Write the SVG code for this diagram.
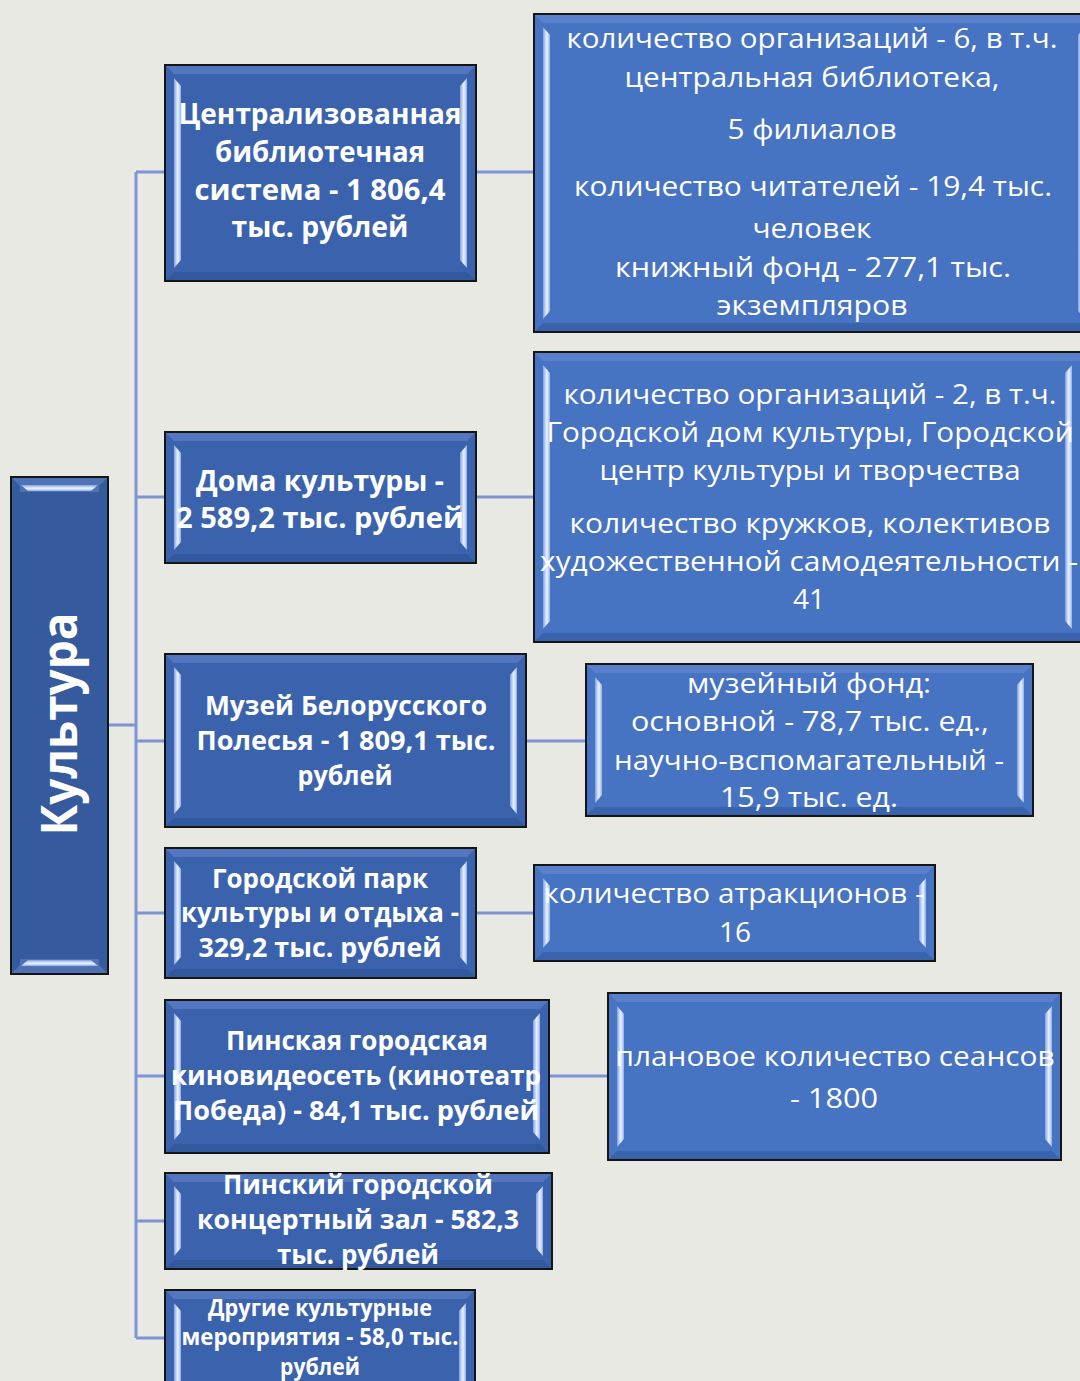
<svg xmlns="http://www.w3.org/2000/svg" width="1080" height="1381" viewBox="0 0 1080 1381">
<defs>
<linearGradient id="gv" x1="0" y1="0" x2="1" y2="0">
<stop offset="0" stop-color="#7ea2e2"/><stop offset="0.55" stop-color="#eef4ff"/><stop offset="1" stop-color="#8fb0ea"/>
</linearGradient>
<linearGradient id="gh" x1="0" y1="0" x2="0" y2="1">
<stop offset="0" stop-color="#7ea2e2"/><stop offset="0.55" stop-color="#eef4ff"/><stop offset="1" stop-color="#8fb0ea"/>
</linearGradient>
<style>
.bg{fill:#e9e9e4}
.box{stroke:#151515;stroke-width:2}
.dk{fill:#3b63ad}
.lt{fill:#4773c3}
.kt{fill:#355a9d}
.tb{fill:#7596d6;opacity:0.4}
.bb{fill:#1f3f7e;opacity:0.3}
.hv{fill:url(#gv)}
.hh{fill:url(#gh)}
.con{stroke:#7d96d3;stroke-width:3;fill:none}
.b{font-family:"Open Sans","Noto Sans",sans-serif;font-weight:bold;fill:#fff;text-anchor:middle;font-size:28px}
.r{font-family:"Open Sans","Noto Sans",sans-serif;fill:#fff;text-anchor:middle;font-size:28px}
</style>
</defs>
<rect class="bg" x="0" y="0" width="1080" height="1381"/>

<g id="connectors">
<path class="con" d="M107,725 H136 M136,172 V1338 M136,172 H165 M136,497 H165 M136,741 H165 M136,913 H165 M136,1076 H165 M136,1221 H165 M136,1338 H165"/>
<path class="con" d="M476,172 H533 M476,497 H533 M526,741 H586 M476,913 H533 M549,1076 H608"/>
</g>

<g id="kultura">
<rect class="box kt" x="11" y="477" width="97" height="497"/>
<path class="tb" d="M12,478 H107 L99,486 V965 L107,973 H12 L20,965 V486 Z"/>
<path class="hh" d="M21,485 H98 L91,491 H28 Z"/>
<path class="hh" d="M21,966 H98 L91,960 H28 Z"/>
<rect class="kt" x="20" y="492" width="79" height="467"/>
<text class="b" style="font-size:50px" transform="translate(77,724) rotate(-90)" textLength="223" lengthAdjust="spacingAndGlyphs">Культура</text>
</g>

<g id="n1">
<rect class="box dk" x="165" y="65" width="311" height="216"/>
<path class="tb" d="M166,66 H475 L467,74 H174 Z"/>
<path class="bb" d="M166,280 H475 L467,272 H174 Z"/>
<path class="hv" d="M174,78 L181,86 V260 L174,268 Z"/>
<path class="hv" d="M467,78 L460,86 V260 L467,268 Z"/>
<text class="b" x="320" y="124" textLength="283" lengthAdjust="spacingAndGlyphs">Централизованная</text>
<text class="b" x="320" y="162" textLength="210" lengthAdjust="spacingAndGlyphs">библиотечная</text>
<text class="b" x="320" y="200" textLength="251" lengthAdjust="spacingAndGlyphs">система - 1 806,4</text>
<text class="b" x="320" y="237" textLength="177" lengthAdjust="spacingAndGlyphs">тыс. рублей</text>
</g>

<g id="n2">
<rect class="box dk" x="165" y="432" width="311" height="131"/>
<path class="tb" d="M166,433 H475 L467,441 H174 Z"/>
<path class="bb" d="M166,562 H475 L467,554 H174 Z"/>
<path class="hv" d="M174,445 L181,453 V542 L174,550 Z"/>
<path class="hv" d="M467,445 L460,453 V542 L467,550 Z"/>
<text class="b" x="320" y="491" textLength="248" lengthAdjust="spacingAndGlyphs">Дома культуры -</text>
<text class="b" x="320" y="528" textLength="288" lengthAdjust="spacingAndGlyphs">2 589,2 тыс. рублей</text>
</g>

<g id="n3">
<rect class="box dk" x="165" y="654" width="361" height="173"/>
<path class="tb" d="M166,655 H525 L517,663 H174 Z"/>
<path class="bb" d="M166,826 H525 L517,818 H174 Z"/>
<path class="hv" d="M174,667 L181,675 V806 L174,814 Z"/>
<path class="hv" d="M517,667 L510,675 V806 L517,814 Z"/>
<text class="b" style="font-size:27px" x="346" y="715" textLength="282" lengthAdjust="spacingAndGlyphs">Музей Белорусского</text>
<text class="b" style="font-size:27px" x="346" y="750" textLength="299" lengthAdjust="spacingAndGlyphs">Полесья - 1 809,1 тыс.</text>
<text class="b" style="font-size:27px" x="345" y="785" textLength="95" lengthAdjust="spacingAndGlyphs">рублей</text>
</g>

<g id="n4">
<rect class="box dk" x="165" y="848" width="311" height="130"/>
<path class="tb" d="M166,849 H475 L467,857 H174 Z"/>
<path class="bb" d="M166,977 H475 L467,969 H174 Z"/>
<path class="hv" d="M174,861 L181,869 V957 L174,965 Z"/>
<path class="hv" d="M467,861 L460,869 V957 L467,965 Z"/>
<text class="b" style="font-size:27px" x="320" y="888" textLength="216" lengthAdjust="spacingAndGlyphs">Городской парк</text>
<text class="b" style="font-size:27px" x="320" y="922" textLength="278" lengthAdjust="spacingAndGlyphs">культуры и отдыха -</text>
<text class="b" style="font-size:27px" x="320" y="957" textLength="243" lengthAdjust="spacingAndGlyphs">329,2 тыс. рублей</text>
</g>

<g id="n5">
<rect class="box dk" x="165" y="1000" width="384" height="153"/>
<path class="tb" d="M166,1001 H548 L540,1009 H174 Z"/>
<path class="bb" d="M166,1152 H548 L540,1144 H174 Z"/>
<path class="hv" d="M174,1013 L181,1021 V1132 L174,1140 Z"/>
<path class="hv" d="M540,1013 L533,1021 V1132 L540,1140 Z"/>
<text class="b" style="font-size:27px" x="357" y="1050" textLength="262" lengthAdjust="spacingAndGlyphs">Пинская городская</text>
<text class="b" style="font-size:27px" x="356" y="1085" textLength="370" lengthAdjust="spacingAndGlyphs">киновидеосеть (кинотеатр</text>
<text class="b" style="font-size:27px" x="356" y="1120" textLength="366" lengthAdjust="spacingAndGlyphs">Победа) - 84,1 тыс. рублей</text>
</g>

<g id="n6">
<rect class="box dk" x="165" y="1173" width="387" height="96"/>
<path class="tb" d="M166,1174 H551 L543,1182 H174 Z"/>
<path class="bb" d="M166,1268 H551 L543,1260 H174 Z"/>
<path class="hv" d="M174,1186 L181,1194 V1248 L174,1256 Z"/>
<path class="hv" d="M543,1186 L536,1194 V1248 L543,1256 Z"/>
<text class="b" style="font-size:27px" x="358" y="1194" textLength="270" lengthAdjust="spacingAndGlyphs">Пинский городской</text>
<text class="b" style="font-size:27px" x="358" y="1229" textLength="322" lengthAdjust="spacingAndGlyphs">концертный зал - 582,3</text>
<text class="b" style="font-size:27px" x="358" y="1264" textLength="162" lengthAdjust="spacingAndGlyphs">тыс. рублей</text>
</g>

<g id="n7">
<rect class="box dk" x="165" y="1290" width="310" height="110"/>
<path class="tb" d="M166,1291 H474 L466,1299 H174 Z"/>
<path class="hv" d="M174,1303 L181,1311 V1400 L174,1400 Z"/>
<path class="hv" d="M466,1303 L459,1311 V1400 L466,1400 Z"/>
<text class="b" style="font-size:23px" x="320" y="1316" textLength="224" lengthAdjust="spacingAndGlyphs">Другие культурные</text>
<text class="b" style="font-size:23px" x="320" y="1345" textLength="277" lengthAdjust="spacingAndGlyphs">мероприятия - 58,0 тыс.</text>
<text class="b" style="font-size:23px" x="320" y="1375" textLength="80" lengthAdjust="spacingAndGlyphs">рублей</text>
</g>

<g id="r1">
<rect class="box lt" x="534" y="14" width="560" height="318"/>
<path class="tb" d="M535,15 H1093 L1085,23 H543 Z"/>
<path class="bb" d="M535,331 H1093 L1085,323 H543 Z"/>
<path class="hv" d="M543,27 L550,35 V311 L543,319 Z"/>
<path class="hv" d="M1085,27 L1078,35 V311 L1085,319 Z"/>
<text class="r" x="812" y="48" textLength="491" lengthAdjust="spacingAndGlyphs">количество организаций - 6, в т.ч.</text>
<text class="r" x="812" y="87" textLength="375" lengthAdjust="spacingAndGlyphs">центральная библиотека,</text>
<text class="r" x="812" y="139" textLength="169" lengthAdjust="spacingAndGlyphs">5 филиалов</text>
<text class="r" x="813" y="196" textLength="478" lengthAdjust="spacingAndGlyphs">количество читателей - 19,4 тыс.</text>
<text class="r" x="812" y="238" textLength="119" lengthAdjust="spacingAndGlyphs">человек</text>
<text class="r" x="813" y="277" textLength="396" lengthAdjust="spacingAndGlyphs">книжный фонд - 277,1 тыс.</text>
<text class="r" x="812" y="315" textLength="191" lengthAdjust="spacingAndGlyphs">экземпляров</text>
</g>

<g id="r2">
<rect class="box lt" x="534" y="352" width="560" height="290"/>
<path class="tb" d="M535,353 H1093 L1085,361 H543 Z"/>
<path class="bb" d="M535,641 H1093 L1085,633 H543 Z"/>
<path class="hv" d="M543,365 L550,373 V621 L543,629 Z"/>
<path class="hv" d="M1072,365 L1065,373 V621 L1072,629 Z"/>
<text class="r" x="810" y="404" textLength="493" lengthAdjust="spacingAndGlyphs">количество организаций - 2, в т.ч.</text>
<text class="r" x="810" y="442" textLength="527" lengthAdjust="spacingAndGlyphs">Городской дом культуры, Городской</text>
<text class="r" x="810" y="480" textLength="421" lengthAdjust="spacingAndGlyphs">центр культуры и творчества</text>
<text class="r" x="810" y="533" textLength="481" lengthAdjust="spacingAndGlyphs">количество кружков, колективов</text>
<text class="r" x="809" y="571" textLength="538" lengthAdjust="spacingAndGlyphs">художественной самодеятельности -</text>
<text class="r" x="809" y="609">41</text>
</g>

<g id="r3">
<rect class="box lt" x="586" y="664" width="447" height="152"/>
<path class="tb" d="M587,665 H1032 L1024,673 H595 Z"/>
<path class="bb" d="M587,815 H1032 L1024,807 H595 Z"/>
<path class="hv" d="M595,677 L602,685 V795 L595,803 Z"/>
<path class="hv" d="M1024,677 L1017,685 V795 L1024,803 Z"/>
<text class="r" x="809" y="693" textLength="244" lengthAdjust="spacingAndGlyphs">музейный фонд:</text>
<text class="r" x="810" y="731" textLength="358" lengthAdjust="spacingAndGlyphs">основной - 78,7 тыс. ед.,</text>
<text class="r" x="809" y="770" textLength="390" lengthAdjust="spacingAndGlyphs">научно-вспомагательный -</text>
<text class="r" x="809" y="807" textLength="178" lengthAdjust="spacingAndGlyphs">15,9 тыс. ед.</text>
</g>

<g id="r4">
<rect class="box lt" x="534" y="865" width="401" height="96"/>
<path class="tb" d="M535,866 H934 L926,874 H543 Z"/>
<path class="bb" d="M535,960 H934 L926,952 H543 Z"/>
<path class="hv" d="M543,878 L550,886 V940 L543,948 Z"/>
<path class="hv" d="M926,878 L919,886 V940 L926,948 Z"/>
<text class="r" x="734" y="903" textLength="381" lengthAdjust="spacingAndGlyphs">количество атракционов -</text>
<text class="r" x="735" y="942">16</text>
</g>

<g id="r5">
<rect class="box lt" x="608" y="993" width="453" height="167"/>
<path class="tb" d="M609,994 H1060 L1052,1002 H617 Z"/>
<path class="bb" d="M609,1159 H1060 L1052,1151 H617 Z"/>
<path class="hv" d="M617,1006 L624,1014 V1139 L617,1147 Z"/>
<path class="hv" d="M1052,1006 L1045,1014 V1139 L1052,1147 Z"/>
<text class="r" x="835" y="1066" textLength="439" lengthAdjust="spacingAndGlyphs">плановое количество сеансов</text>
<text class="r" x="834" y="1108" textLength="88" lengthAdjust="spacingAndGlyphs">- 1800</text>
</g>
</svg>
